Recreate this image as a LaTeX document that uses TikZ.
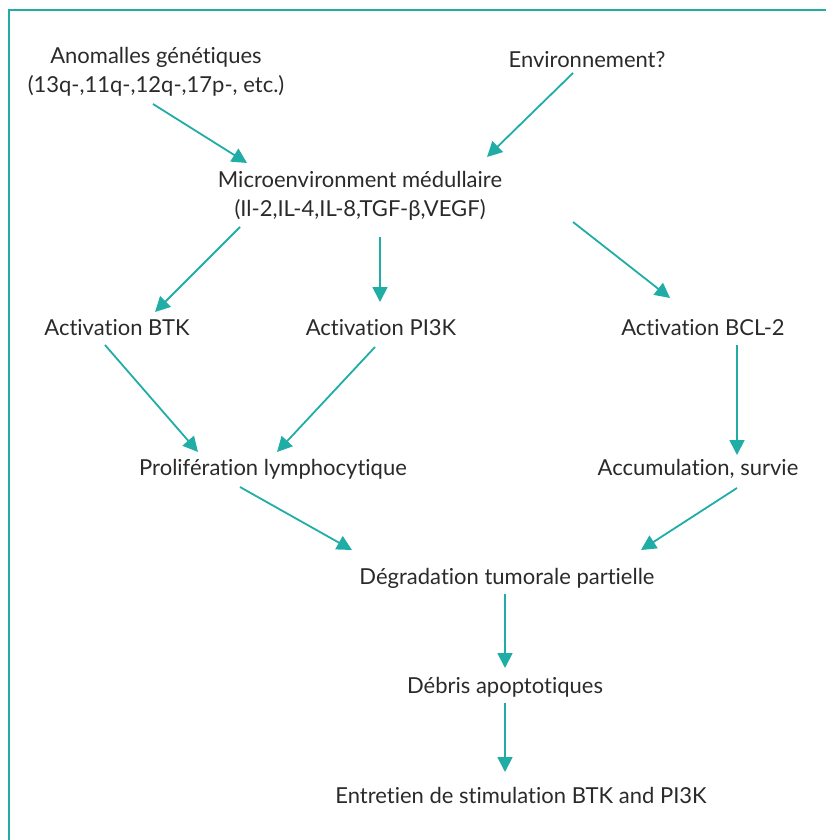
\documentclass[tikz,border=0pt]{standalone}
\usepackage{fontspec}
\setmainfont[Ligatures={NoCommon}]{Lato}
\usetikzlibrary{arrows.meta}
\definecolor{teal1}{HTML}{1FADA5}
\definecolor{txt}{HTML}{2B2A2A}
\begin{document}
\begin{tikzpicture}[x=1pt,y=1pt,
  lbl/.style={font=\fontsize{22}{29}\selectfont, text=txt, align=center, inner sep=0pt},
  arr/.style={draw=teal1, line width=1.8pt, -{Triangle[length=15pt,width=15pt]}}]
\useasboundingbox (0,0) rectangle (826,-840);
\draw[teal1, line width=2pt] (9,-840) -- (9,-10) -- (826,-10);
\node[lbl] (a) at (156,-72) {Anomalles génétiques\\(13q-,11q-,12q-,17p-, etc.)};
\node[lbl] (env) at (587,-60) {Environnement?};
\node[lbl] (micro) at (360,-196) {Microenvironment médullaire\\(Il-2,IL-4,IL-8,TGF-β,VEGF)};
\node[lbl] (btk) at (117,-328) {Activation BTK};
\node[lbl] (pi3k) at (381,-328) {Activation PI3K};
\node[lbl] (bcl) at (703,-328) {Activation BCL-2};
\node[lbl] (prolif) at (273,-469) {Prolifération lymphocytique};
\node[lbl] (accum) at (698,-469) {Accumulation, survie};
\node[lbl] (degr) at (507,-578) {Dégradation tumorale partielle};
\node[lbl] (debris) at (505,-687) {Débris apoptotiques};
\node[lbl] (entret) at (521,-795) {Entretien de stimulation BTK and PI3K};
\draw[arr] ([shift={(-3,-32)}]a.center) -- ([shift={(-113,33)}]micro.center);
\draw[arr] ([shift={(-14,-13)}]env.center) -- ([shift={(127,39)}]micro.center);
\draw[arr] ([shift={(-120,-31)}]micro.center) -- ([shift={(38,16)}]btk.center);
\draw[arr] ([shift={(20,-41)}]micro.center) -- ([shift={(-1,26)}]pi3k.center);
\draw[arr] ([shift={(213,-26)}]micro.center) -- ([shift={(-33,30)}]bcl.center);
\draw[arr] ([shift={(-12,-17)}]btk.center) -- ([shift={(-75,17)}]prolif.center);
\draw[arr] ([shift={(-6,-19)}]pi3k.center) -- ([shift={(4,17)}]prolif.center);
\draw[arr] ([shift={(34,-17)}]bcl.center) -- ([shift={(39,14)}]accum.center);
\draw[arr] ([shift={(-33,-18)}]prolif.center) -- ([shift={(-155,28)}]degr.center);
\draw[arr] ([shift={(39,-19)}]accum.center) -- ([shift={(134,28)}]degr.center);
\draw[arr] ([shift={(-2,-16)}]degr.center) -- ([shift={(0,19)}]debris.center);
\draw[arr] ([shift={(0,-16)}]debris.center) -- ([shift={(-16,23)}]entret.center);
\end{tikzpicture}
\end{document}
